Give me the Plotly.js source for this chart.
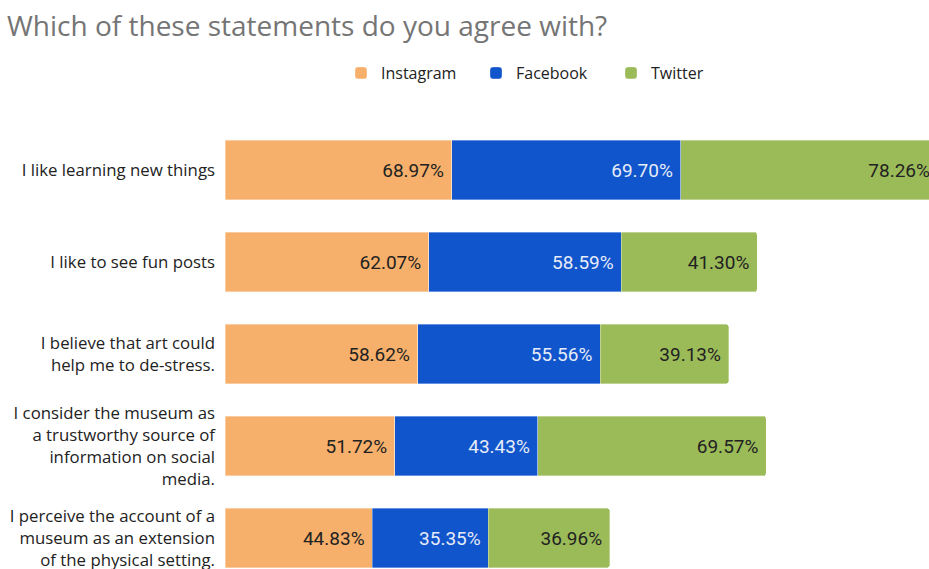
<!DOCTYPE html>
<html>
<head>
<meta charset="utf-8">
<script src="https://cdn.plot.ly/plotly-3.0.1.min.js"></script>
<style>html,body{margin:0;padding:0;overflow:hidden;background:#fff}#chart{width:929px;height:569px}</style>
</head>
<body>
<div id="chart"></div>
<script>
const categories = [
  "I like learning new things",
  "I like to see fun posts",
  "I believe that art could<br>help me to de-stress.",
  "I consider the museum as<br>a trustworthy source of<br>information on social<br>media.",
  "I perceive the account of a<br>museum as an extension<br>of the physical setting."
];
const instagram = [68.97, 62.07, 58.62, 51.72, 44.83];
const facebook  = [69.70, 58.59, 55.56, 43.43, 35.35];
const twitter   = [78.26, 41.30, 39.13, 69.57, 36.96];
const seriesNames = ["Instagram", "Facebook", "Twitter"];
const colors = ["#f6b06b", "#1155cc", "#9bbb59"];
const textColors = ["#222222", "#e6ecf8", "#222222"];

const all = [instagram, facebook, twitter];
const traces = all.map((vals, i) => ({
  type: "bar",
  orientation: "h",
  name: seriesNames[i],
  y: categories,
  x: vals,
  text: vals.map(v => v.toFixed(2) + "%\u00a0"),
  textposition: "inside",
  insidetextanchor: "end",
  textangle: 0,
  insidetextfont: {family: "Roboto, sans-serif", size: 19, color: textColors[i]},
  marker: {color: colors[i], line: {width: 0.5, color: "rgba(255,255,255,0.7)"}},
  hoverinfo: "none"
}));

const layout = {
  width: 929, height: 569,
  margin: {l: 225, r: 0, t: 124, b: 0},
  paper_bgcolor: "#fff", plot_bgcolor: "#fff",
  barmode: "stack",
  bargap: 0.35,
  barcornerradius: 3,
  showlegend: true,
  title: {
    text: "Which of these statements do you agree with?",
    xref: "container", yref: "container",
    x: 7/929, xanchor: "left",
    y: 1 - 16/569, yanchor: "top",
    font: {family: "Open Sans, sans-serif", size: 28, color: "#757575"}
  },
  legend: {
    orientation: "h",
    xref: "container", yref: "container",
    x: 341/929, xanchor: "left",
    y: 1 - 56/569, yanchor: "top",
    font: {family: "Open Sans, sans-serif", size: 16, color: "#222"},
    itemwidth: 30,
    entrywidth: 90,
    entrywidthmode: "pixels",
    traceorder: "normal"
  },
  xaxis: {
    range: [0, 214.3],
    visible: false,
    fixedrange: true
  },
  yaxis: {
    type: "category",
    range: [4.337, -0.5],
    showgrid: false, zeroline: false, showline: false,
    ticks: "",
    ticklabelstandoff: 9,
    tickfont: {family: "Open Sans, sans-serif", size: 16.8, color: "#222"},
    fixedrange: true
  }
};

Plotly.newPlot("chart", traces, layout, {displayModeBar: false, staticPlot: true});
</script>
</body>
</html>
